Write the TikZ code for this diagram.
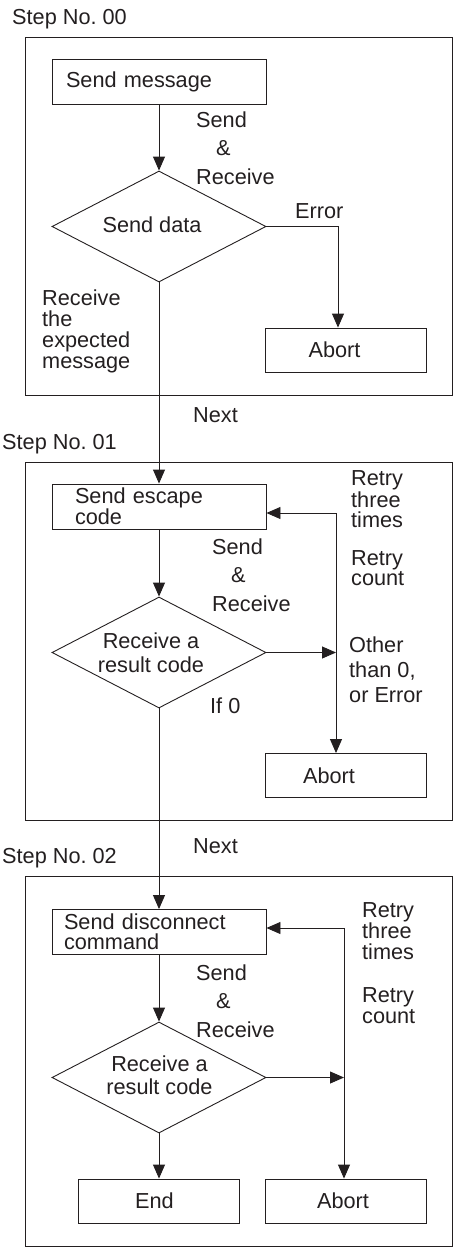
\documentclass[tikz,border=0pt]{standalone}
\usepackage{fontspec}
\setmainfont{Liberation Sans}
\usetikzlibrary{shapes.geometric,arrows.meta}
\definecolor{ink}{RGB}{35,31,32}
\begin{document}
\begin{tikzpicture}[x=1pt,y=-1pt,
  every node/.style={text=ink},
  fnt/.style={font=\fontsize{21.7}{#1}\selectfont},
  frame/.style={draw=ink, line width=0.9pt},
  box/.style={draw=ink, line width=0.9pt, rectangle, minimum height=45pt, inner xsep=#1, text width={214pt-2*#1}, align=left, inner ysep=0pt, fnt=20},
  cbox/.style={draw=ink, line width=0.9pt, rectangle, minimum width=161pt, minimum height=44pt, inner sep=0pt, fnt=20},
  dia/.style={draw=ink, line width=0.9pt, diamond, minimum width=214pt, minimum height=111pt, shape aspect=1.93, inner sep=0pt},
  lbl/.style={inner sep=0pt, align=left, anchor=base west, fnt=#1},
  lbl/.default=20,
  dtxt/.style={inner sep=0pt, align=center, fnt=#1},
  dtxt/.default=24,
  arr/.style={draw=ink, line width=0.9pt, -{Triangle[length=14pt,width=12pt]}},
]
\useasboundingbox (0,0) rectangle (457,1250);

% frames
\draw[frame] (25,37) rectangle (452,395);
\draw[frame] (25,462) rectangle (452,820);
\draw[frame] (25,876) rectangle (452,1246);

% ---------- Step 00 ----------
\node[lbl] (st0) at (12,24) {Step No.\ 00};
\node[box=14pt] (b1) at (159,81.5) {Send message};
\node[dia] (d1) at (159,226.5) {};
\node[dtxt] (d1t) at (152,225) {Send data};
\node[cbox] (a1) at (345.5,350) {Abort\hspace*{22pt}};
\node[lbl=28.5] (sr1) at (196,184) {Send\\\hspace*{20pt}\&\\Receive};
\node[lbl] (err) at (295,218) {Error};
\node[lbl=21] (rtm) at (42,368) {Receive\\the\\expected\\message};
\draw[arr] (b1.south) -- (d1.north);
\draw[arr] (d1.east) -| ([xshift=-7.5pt]a1.north);

% ---------- Step 01 ----------
\node[lbl] (nx1) at (193,422) {Next};
\node[lbl] (st1) at (2,449) {Step No.\ 01};
\node[box=23pt] (b2) at (159,506.5) {Send escape\\code};
\node[dia] (d2) at (159,652.5) {};
\node[dtxt] (d2t) at (151,652.3) {Receive a\\result code};
\node[cbox] (a2) at (345.5,775.5) {Abort\hspace*{33pt}};
\node[lbl=28.5] (sr2) at (212,611) {Send\\\hspace*{19pt}\&\\Receive};
\node[lbl=20] (rt2) at (351,527) {Retry\\three\\times};
\node[lbl=19.5] (rc2) at (351,585) {Retry\\count};
\node[lbl=25] (oth) at (349,702) {Other\\than 0,\\or Error};
\node[lbl] (if0) at (210,713) {If 0};
\coordinate (j2) at (336,652.5);
\coordinate (r2) at (336,513);
\draw[arr] (d1.south) -- (b2.north);
\draw[arr] (b2.south) -- (d2.north);
\draw[arr] (d2.east) -- (j2);
\draw[arr] (j2) -- (r2) -- (r2 -| b2.east);
\draw[arr] (j2) -- (j2 |- a2.north);

% ---------- Step 02 ----------
\node[lbl] (nx2) at (193,853) {Next};
\node[lbl] (st2) at (2,863) {Step No.\ 02};
\node[box=12pt] (b3) at (159,932) {Send disconnect\\command};
\node[dia] (d3) at (159,1077.5) {};
\node[dtxt=23.5] (d3t) at (159.5,1075) {Receive a\\result code};
\node[cbox] (e3) at (158.5,1201) {End\hspace*{8pt}};
\node[cbox] (a3) at (345.5,1201) {Abort\hspace*{5pt}};
\node[lbl=28.5] (sr3) at (196,1037) {Send\\\hspace*{20pt}\&\\Receive};
\node[lbl=21] (rt3) at (362,959) {Retry\\three\\times};
\node[lbl=21] (rc3) at (362,1023) {Retry\\count};
\coordinate (j3) at (344,1077.5);
\coordinate (r3) at (344,928);
\draw[arr] (d2.south) -- (b3.north);
\draw[arr] (b3.south) -- (d3.north);
\draw[arr] (d3.east) -- (j3);
\draw[arr] (j3) -- (r3) -- (r3 -| b3.east);
\draw[arr] (j3) -- (j3 |- a3.north);
\draw[arr] (d3.south) -- (d3.south |- e3.north);
\end{tikzpicture}
\end{document}
